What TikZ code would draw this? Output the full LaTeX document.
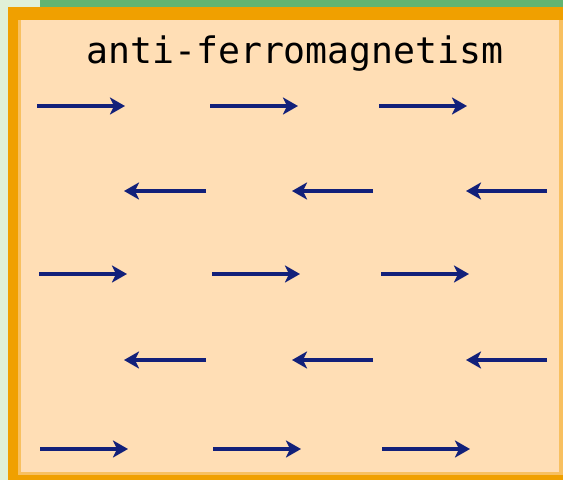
\documentclass[tikz,border=0pt]{standalone}
\usepackage{fontspec}
\setmonofont{DejaVu Sans Mono}
\usetikzlibrary{arrows.meta}
\definecolor{paleGreen}{HTML}{E0F0D8}
\definecolor{barGreen}{HTML}{62B472}
\definecolor{frameOrange}{HTML}{F0A000}
\definecolor{rimOrange}{HTML}{F8C060}
\definecolor{peach}{HTML}{FFDEB5}
\definecolor{spinBlue}{HTML}{12207A}
\tikzset{
  spin/.style={draw=spinBlue, line width=4pt,
    -{Stealth[length=15pt,width=17pt,inset=4pt]}},
  title/.style={font=\ttfamily\fontsize{36.5}{40}\selectfont, text=black}
}
\begin{document}
\begin{tikzpicture}[x=1pt,y=-1pt]
    % Background and frame
    \fill [paleGreen] (0,0) rectangle (563,480);
    \fill [barGreen] (40,0) rectangle (563,7);
    \fill [frameOrange] (8,7) rectangle (563,480);
    \fill [rimOrange] (18,20) rectangle (563,475);
    \fill [peach] (21,20) rectangle (559,472);
    % Title
    \node [title] (heading) at (295,54) {anti-ferromagnetism};
    % Spins pointing right
    \foreach \y/\dx in {106/0, 274/2, 449/3}
      \foreach \x in {37, 210, 379}
        \draw [spin] (\x+\dx,\y) -- (\x+\dx+88,\y);
    % Spins pointing left
    \foreach \y in {191, 360}
      \foreach \x/\w in {206/82, 373/81, 547/81}
        \draw [spin] (\x,\y) -- (\x-\w,\y);
\end{tikzpicture}
\end{document}
